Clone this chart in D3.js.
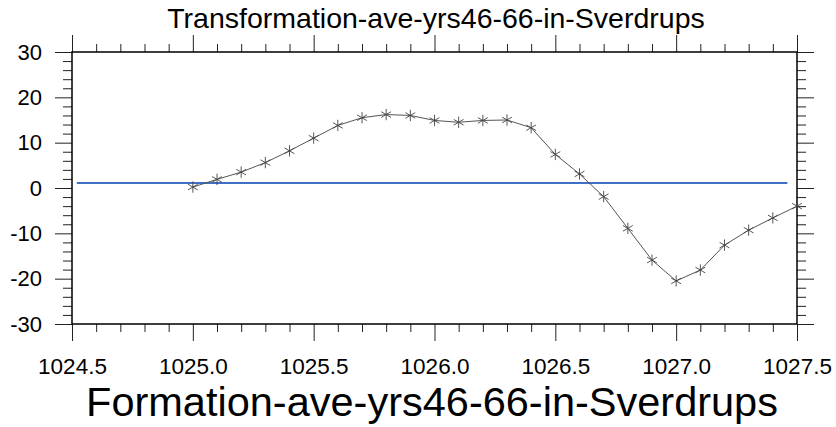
<!DOCTYPE html>
<html>
<head>
<meta charset="utf-8">
<script src="https://cdn.jsdelivr.net/npm/d3@7"></script>
<style>
  body { margin: 0; background: #fff; }
  svg { font-family: "Liberation Sans", Arial, Helvetica, sans-serif; }
</style>
</head>
<body>
<div class="chart"></div>
<script>
const width = 836
const height = 427

// data
const density = [1025.0, 1025.1, 1025.2, 1025.3, 1025.4, 1025.5, 1025.6, 1025.7, 1025.8, 1025.9,
                 1026.0, 1026.1, 1026.2, 1026.3, 1026.4, 1026.5, 1026.6, 1026.7, 1026.8, 1026.9,
                 1027.0, 1027.1, 1027.2, 1027.3, 1027.4, 1027.5]
const transformation = [0.2, 1.9, 3.5, 5.6, 8.2, 11.0, 13.8, 15.5, 16.2, 16.0,
                        14.9, 14.5, 14.9, 15.0, 13.3, 7.4, 3.1, -1.9, -8.9, -15.9,
                        -20.5, -18.1, -12.6, -9.3, -6.6, -4.0]
const refLineX = [1024.52, 1027.46]
const refLineY = [1.1, 1.1]
const xTicks = [1024.5, 1025.0, 1025.5, 1026.0, 1026.5, 1027.0, 1027.5]
const yTicks = [-30, -20, -10, 0, 10, 20, 30]
const titleText = "Transformation-ave-yrs46-66-in-Sverdrups"
const xTitleText = "Formation-ave-yrs46-66-in-Sverdrups"

const margin = {top: 52, right: 39, bottom: 103, left: 72}
const innerW = width - margin.left - margin.right
const innerH = height - margin.top - margin.bottom

const svg = d3.select('.chart')
    .append('svg')
    .attr('width', width)
    .attr('height', height)

const x = d3.scaleLinear().domain([1024.5, 1027.5]).range([margin.left, margin.left + innerW])
const y = d3.scaleLinear().domain([-30, 30]).range([margin.top + innerH, margin.top])

const minorX = d3.range(10245, 10276, 1).map(d => d / 10).filter(d => !xTicks.includes(d))
const minorY = d3.range(-30, 31, 2).filter(d => d % 10 !== 0)

// axes: all ticks point outward
const axisStyle = g => {
    g.select('.domain').remove()
    g.selectAll('.tick line').attr('stroke', '#222').attr('stroke-width', 1)
}

// bottom
svg.append('g')
    .attr('transform', `translate(0,${margin.top + innerH})`)
    .call(d3.axisBottom(x).tickValues(minorX).tickSize(8).tickFormat(''))
    .call(axisStyle)
svg.append('g')
    .attr('transform', `translate(0,${margin.top + innerH})`)
    .call(d3.axisBottom(x).tickValues(xTicks).tickSize(17).tickPadding(17).tickFormat(d => d.toFixed(1)))
    .call(axisStyle)
    .call(g => g.selectAll('text').attr('font-size', 22.5).attr('fill', '#000')
        .attr('font-family', '"Liberation Sans", Arial, sans-serif'))

// top
svg.append('g')
    .attr('transform', `translate(0,${margin.top})`)
    .call(d3.axisTop(x).tickValues(minorX).tickSize(8).tickFormat(''))
    .call(axisStyle)
svg.append('g')
    .attr('transform', `translate(0,${margin.top})`)
    .call(d3.axisTop(x).tickValues(xTicks).tickSize(17).tickFormat(''))
    .call(axisStyle)

// left
svg.append('g')
    .attr('transform', `translate(${margin.left},0)`)
    .call(d3.axisLeft(y).tickValues(minorY).tickSize(9).tickFormat(''))
    .call(axisStyle)
svg.append('g')
    .attr('transform', `translate(${margin.left},0)`)
    .call(d3.axisLeft(y).tickValues(yTicks).tickSize(17).tickPadding(13).tickFormat(d => String(d)))
    .call(axisStyle)
    .call(g => g.selectAll('text').attr('font-size', 22).attr('fill', '#000')
        .attr('font-family', '"Liberation Sans", Arial, sans-serif'))

// right
svg.append('g')
    .attr('transform', `translate(${margin.left + innerW},0)`)
    .call(d3.axisRight(y).tickValues(minorY).tickSize(9).tickFormat(''))
    .call(axisStyle)
svg.append('g')
    .attr('transform', `translate(${margin.left + innerW},0)`)
    .call(d3.axisRight(y).tickValues(yTicks).tickSize(17).tickFormat(''))
    .call(axisStyle)

// frame
svg.append('rect')
    .attr('x', margin.left)
    .attr('y', margin.top)
    .attr('width', innerW)
    .attr('height', innerH)
    .attr('fill', 'none')
    .attr('stroke', '#000')
    .attr('stroke-width', 1.5)

// blue reference line
svg.append('path')
    .datum(refLineX.map((d, i) => [d, refLineY[i]]))
    .attr('d', d3.line().x(d => x(d[0])).y(d => y(d[1])))
    .attr('fill', 'none')
    .attr('stroke', '#3f6fc6')
    .attr('stroke-width', 2)

// transformation curve
const pts = density.map((d, i) => [d, transformation[i]])
svg.append('path')
    .datum(pts)
    .attr('d', d3.line().x(d => x(d[0])).y(d => y(d[1])))
    .attr('fill', 'none')
    .attr('stroke', '#555')
    .attr('stroke-width', 1)

svg.append('g')
    .selectAll('path')
    .data(pts)
    .join('path')
        .attr('transform', d => `translate(${x(d[0])},${y(d[1])})`)
        .attr('d', d3.symbol(d3.symbolAsterisk, 90))
        .attr('fill', 'none')
        .attr('stroke', '#444')
        .attr('stroke-width', 0.9)

// titles
svg.append('text')
    .attr('x', 436)
    .attr('y', 28)
    .attr('text-anchor', 'middle')
    .attr('font-size', 28.5)
    .text(titleText)

svg.append('text')
    .attr('x', 432)
    .attr('y', 416)
    .attr('text-anchor', 'middle')
    .attr('font-size', 41.5)
    .text(xTitleText)
</script>
</body>
</html>
